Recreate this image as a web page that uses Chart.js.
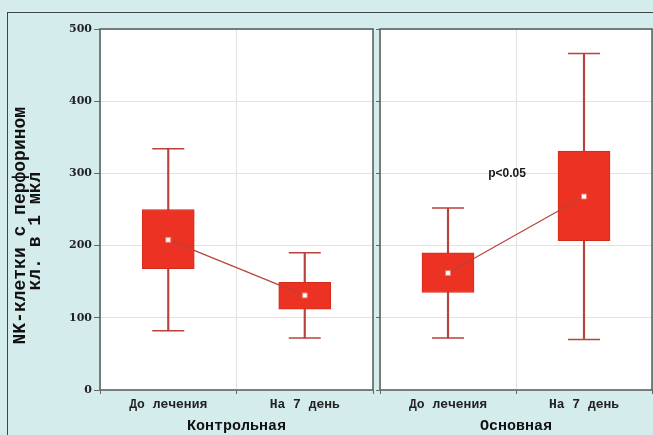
<!DOCTYPE html>
<html>
<head>
<meta charset="utf-8">
<script src="https://cdn.jsdelivr.net/npm/chart.js@4.4.1/dist/chart.umd.min.js"></script>
<style>
  body { margin: 0; background: #d5ecec; width: 653px; height: 435px; overflow: hidden; position: relative; }
  #frame { position: absolute; left: 7px; top: 12px; width: 700px; height: 500px; border: 1.5px solid #3c4646; }
  #leftWrap { position: absolute; left: 0; top: 0; width: 376px; height: 435px; }
  #rightWrap { position: absolute; left: 376px; top: 0; width: 277px; height: 435px; }
</style>
</head>
<body>
<div id="frame"></div>
<div id="leftWrap"><canvas id="leftChart"></canvas></div>
<div id="rightWrap"><canvas id="rightChart"></canvas></div>
<script>
// categories and tick labels
const categories = ['До лечения', 'На 7 день'];
const yTicks = [0, 100, 200, 300, 400, 500];

// Контрольная group
const controlMin = [82, 72];
const controlQ1 = [168, 112];
const controlMedian = [208, 131];
const controlQ3 = [250, 149];
const controlMax = [334, 190];

// Основная group
const mainMin = [72, 70];
const mainQ1 = [135, 207];
const mainMedian = [162, 268];
const mainQ3 = [190, 331];
const mainMax = [252, 466];

const boxRed = '#ec3323';
const lineRed = '#b8423c';

// white plot background + frame round the plot
const framePlugin = {
    id: 'framePlugin',
    beforeDraw(chart) {
        const a = chart.chartArea;
        const ctx = chart.ctx;
        ctx.save();
        ctx.fillStyle = '#ffffff';
        ctx.fillRect(a.left, a.top, a.right - a.left, a.bottom - a.top);
        ctx.restore();
    },
    afterDraw(chart) {
        const a = chart.chartArea;
        const ctx = chart.ctx;
        ctx.save();
        ctx.strokeStyle = '#505a5a';
        ctx.lineWidth = 1.5;
        ctx.strokeRect(a.left, a.top, a.right - a.left, a.bottom - a.top);
        ctx.restore();
    }
};

// p-value text for the second group
const pValuePlugin = {
    id: 'pValuePlugin',
    afterDatasetsDraw(chart, args, opts) {
        if (!opts.text) return;
        const ctx = chart.ctx;
        const xs = chart.scales.x, ys = chart.scales.y;
        const x = (xs.getPixelForValue(0) + xs.getPixelForValue(1)) / 2 - 9;
        const y = ys.getPixelForValue(opts.value);
        ctx.save();
        ctx.font = 'bold 12px "Liberation Sans", Arial, sans-serif';
        ctx.fillStyle = '#1a1a1a';
        ctx.textAlign = 'center';
        ctx.textBaseline = 'middle';
        ctx.fillText(opts.text, x, y);
        ctx.restore();
    }
};

function makeDatasets(mins, q1, med, q3, maxs) {
    return [
        {
            type: 'line', data: med, order: 0,
            borderColor: lineRed, borderWidth: 1.2,
            pointStyle: 'rect', pointRadius: 3.5,
            pointBackgroundColor: '#ffffff', pointBorderColor: '#f07a70', pointBorderWidth: 1
        },
        {
            type: 'line', data: maxs, order: 2, showLine: false,
            pointStyle: 'line', pointRadius: 16, pointBorderColor: lineRed, pointBorderWidth: 1.5
        },
        {
            type: 'line', data: mins, order: 2, showLine: false,
            pointStyle: 'line', pointRadius: 16, pointBorderColor: lineRed, pointBorderWidth: 1.5
        },
        {
            type: 'bar', data: q1.map((v, i) => [v, q3[i]]), order: 3, grouped: false,
            backgroundColor: boxRed, borderColor: '#d42a1c', borderWidth: 1,
            barThickness: 52, borderSkipped: false
        },
        {
            type: 'bar', data: mins.map((v, i) => [v, maxs[i]]), order: 4, grouped: false,
            backgroundColor: lineRed, borderWidth: 0, barThickness: 1.5
        }
    ];
}

const tickFont = { family: '"Liberation Mono", "Courier New", monospace', size: 13, weight: 'bold' };
const titleFont = { family: '"Liberation Mono", "Courier New", monospace', size: 15, weight: 'bold' };

function makeOptions(showY, groupTitle, pText) {
    return {
        responsive: true,
        maintainAspectRatio: false,
        animation: false,
        layout: { autoPadding: false, padding: { left: 0, right: showY ? 3 : 1, top: 29, bottom: 0 } },
        plugins: {
            legend: { display: false },
            tooltip: { enabled: false },
            pValuePlugin: { text: pText, value: 300 }
        },
        scales: {
            x: {
                labels: categories,
                offset: true,
                grid: { offset: true, color: '#e2e2e2', tickLength: 4, tickColor: '#666' },
                border: { display: false },
                ticks: { color: '#222', font: tickFont, padding: 3, maxRotation: 0 },
                title: { display: true, text: groupTitle, color: '#111', font: titleFont, padding: { top: 2, bottom: 0 } },
                afterFit(scale) {
                    scale.height = 45;
                    scale.paddingLeft = 0;
                    scale.paddingRight = 0;
                }
            },
            y: {
                min: 0, max: 500,
                afterBuildTicks(scale) { scale.ticks = yTicks.map(v => ({ value: v })); },
                grid: { color: '#e2e2e2', tickLength: showY ? 6 : 4, tickColor: '#666' },
                border: { display: false },
                ticks: {
                    display: showY,
                    color: '#222',
                    font: { family: '"DejaVu Serif", serif', size: 11, weight: 'bold' },
                    padding: 2
                },
                title: {
                    display: showY,
                    // trailing spaces push the rotated lines a little down, as in the original
                    text: ['NK-клетки с перфорином   ', 'кл. в 1 мкл    '],
                    color: '#111',
                    font: { family: '"Liberation Mono", "Courier New", monospace', size: 18, weight: 'bold', lineHeight: 0.85 },
                    padding: { top: 13, bottom: 0 }
                },
                afterFit(scale) {
                    scale.width = showY ? 100 : 4;
                    scale.paddingTop = 0;
                    scale.paddingBottom = 0;
                }
            }
        }
    };
}

new Chart(document.getElementById('leftChart'), {
    data: { labels: categories, datasets: makeDatasets(controlMin, controlQ1, controlMedian, controlQ3, controlMax) },
    options: makeOptions(true, 'Контрольная', ''),
    plugins: [framePlugin, pValuePlugin]
});

new Chart(document.getElementById('rightChart'), {
    data: { labels: categories, datasets: makeDatasets(mainMin, mainQ1, mainMedian, mainQ3, mainMax) },
    options: makeOptions(false, 'Основная', 'p<0.05'),
    plugins: [framePlugin, pValuePlugin]
});
</script>
</body>
</html>
